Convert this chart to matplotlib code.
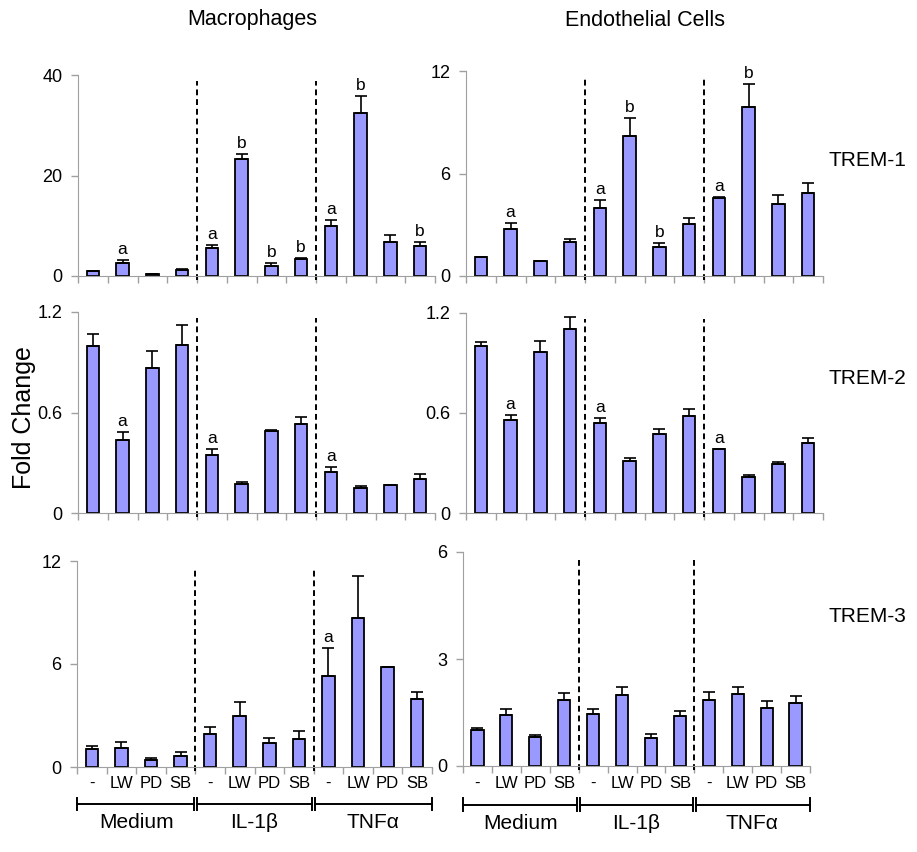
import matplotlib
matplotlib.use('Agg')
import matplotlib.pyplot as plt
import numpy as np

plt.rcParams['font.family'] = ['Liberation Sans', 'DejaVu Sans']

# Treatment labels under each bar, and stimulus groups
treatments = ['-', 'LW', 'PD', 'SB'] * 3
groups = ['Medium', 'IL-1\u03b2', 'TNF\u03b1']
cell_types = ['Macrophages', 'Endothelial Cells']
genes = ['TREM-1', 'TREM-2', 'TREM-3']

# Macrophages
mac_trem1 = [1.0, 2.5, 0.3, 1.2, 5.6, 23.2, 1.9, 3.4, 10.0, 32.4, 6.8, 5.9]
mac_trem1_err = [0.0, 0.7, 0.0, 0.2, 0.6, 1.1, 0.6, 0.1, 1.1, 3.4, 1.3, 0.9]
mac_trem1_sig = ['', 'a', '', '', 'a', 'b', 'b', 'b', 'a', 'b', '', 'b']

mac_trem2 = [1.00, 0.434, 0.864, 1.003, 0.348, 0.171, 0.492, 0.529, 0.245, 0.147, 0.167, 0.205]
mac_trem2_err = [0.068, 0.052, 0.101, 0.121, 0.036, 0.012, 0.003, 0.044, 0.028, 0.014, 0.003, 0.03]
mac_trem2_sig = ['', 'a', '', '', 'a', '', '', '', 'a', '', '', '']

mac_trem3 = [1.03, 1.11, 0.39, 0.66, 1.90, 2.99, 1.40, 1.61, 5.32, 8.66, 5.83, 3.94]
mac_trem3_err = [0.21, 0.37, 0.11, 0.21, 0.43, 0.80, 0.29, 0.51, 1.59, 2.49, 0.0, 0.43]
mac_trem3_sig = ['', '', '', '', '', '', '', '', 'a', '', '', '']

# Endothelial cells
endo_trem1 = [1.09, 2.75, 0.86, 1.97, 3.97, 8.22, 1.69, 3.04, 4.58, 9.92, 4.19, 4.83]
endo_trem1_err = [0.04, 0.37, 0.04, 0.21, 0.49, 1.05, 0.22, 0.37, 0.04, 1.32, 0.56, 0.64]
endo_trem1_sig = ['', 'a', '', '', 'a', 'b', 'b', '', 'a', 'b', '', '']

endo_trem2 = [1.004, 0.56, 0.968, 1.106, 0.538, 0.31, 0.472, 0.584, 0.382, 0.214, 0.296, 0.42]
endo_trem2_err = [0.02, 0.028, 0.062, 0.068, 0.03, 0.022, 0.03, 0.038, 0.0, 0.014, 0.012, 0.03]
endo_trem2_sig = ['', 'a', '', '', 'a', '', '', '', 'a', '', '', '']

endo_trem3 = [1.0, 1.43, 0.82, 1.84, 1.47, 1.98, 0.78, 1.41, 1.84, 2.01, 1.64, 1.77]
endo_trem3_err = [0.06, 0.17, 0.06, 0.2, 0.13, 0.24, 0.12, 0.13, 0.24, 0.21, 0.17, 0.18]
endo_trem3_sig = [''] * 12

panels = [
    # (values, errors, letters, ymax, ticklabels, rect in pixels [x0, y_top, x1, y_bottom])
    (mac_trem1, mac_trem1_err, mac_trem1_sig, 40, ['0', '20', '40'], [78, 75, 435, 276]),
    (endo_trem1, endo_trem1_err, endo_trem1_sig, 12, ['0', '6', '12'], [466, 71, 823, 276]),
    (mac_trem2, mac_trem2_err, mac_trem2_sig, 1.2, ['0', '0.6', '1.2'], [78, 312, 435, 513]),
    (endo_trem2, endo_trem2_err, endo_trem2_sig, 1.2, ['0', '0.6', '1.2'], [466, 313, 823, 513]),
    (mac_trem3, mac_trem3_err, mac_trem3_sig, 12, ['0', '6', '12'], [77, 561, 432, 767]),
    (endo_trem3, endo_trem3_err, endo_trem3_sig, 6, ['0', '3', '6'], [463, 552, 810, 766]),
]

W, H = 917, 852
fig = plt.figure(figsize=(W / 100, H / 100), dpi=100)

bar_color = '#9999ff'
axis_gray = '#a0a0a0'
x = np.arange(12)

for i, (vals, errs, sig, ymax, yticklabels, r) in enumerate(panels):
    ax = fig.add_axes([r[0] / W, 1 - r[3] / H, (r[2] - r[0]) / W, (r[3] - r[1]) / H])
    ax.bar(x, vals, width=0.42, color=bar_color, edgecolor='black', linewidth=1.3, zorder=2)
    ax.errorbar(x, vals, yerr=[np.zeros(12), errs], fmt='none', ecolor='black',
                elinewidth=1.2, capsize=4, capthick=1.2, zorder=3)
    for xi, v, e, s in zip(x, vals, errs, sig):
        if s:
            ax.text(xi, v + e + ymax * 0.015, s, ha='center', va='bottom', fontsize=12.5)

    ax.set_xlim(-0.5, 11.5)
    ax.set_ylim(0, ymax)
    ax.set_yticks([0, ymax / 2, ymax])
    ax.set_yticklabels(yticklabels, fontsize=13)
    ax.set_xticks(np.arange(-0.5, 12, 1))
    ax.set_xticklabels([])
    ax.tick_params(axis='both', color=axis_gray, length=5, width=1)
    ax.tick_params(axis='y', pad=6)
    for side in ['top', 'right']:
        ax.spines[side].set_visible(False)
    for side in ['left', 'bottom']:
        ax.spines[side].set_color(axis_gray)
    ax.patch.set_alpha(0)

    # dashed separators between stimulus groups
    for xb in [3.5, 7.5]:
        ax.plot([xb, xb], [-0.02, 0.97], ls='--', color='black', lw=1.4,
                transform=ax.get_xaxis_transform(), clip_on=False, dashes=(3, 2))

    # bottom row gets treatment labels and group brackets
    if i >= 4:
        trans = ax.get_xaxis_transform()
        for xi, t in zip(x, treatments):
            ax.text(xi, -0.045, t, ha='center', va='top', fontsize=12, transform=trans)
        yb = -0.18
        for g, name in enumerate(groups):
            x0 = 4 * g - 0.5 + (0.06 if g > 0 else 0)
            x1 = 4 * g + 3.5 - (0.06 if g < 2 else 0)
            ax.plot([x0, x1], [yb, yb], color='black', lw=1.4, transform=trans, clip_on=False)
            for xe in [x0, x1]:
                ax.plot([xe, xe], [yb - 0.03, yb + 0.03], color='black', lw=1.4,
                        transform=trans, clip_on=False)
            ax.text(4 * g + 1.5, yb - 0.045, name, ha='center', va='top', fontsize=15,
                    transform=trans)

fig.text(252 / W, 1 - 20 / H, cell_types[0], ha='center', va='center', fontsize=15.5)
fig.text(645 / W, 1 - 20 / H, cell_types[1], ha='center', va='center', fontsize=15.5)
for gene, yp in zip(genes, [160, 378, 617]):
    fig.text(867 / W, 1 - yp / H, gene, ha='center', va='center', fontsize=15)
fig.text(24 / W, 1 - 418 / H, 'Fold Change', ha='center', va='center', rotation=90, fontsize=18)

fig.savefig('out.png', dpi=100)
